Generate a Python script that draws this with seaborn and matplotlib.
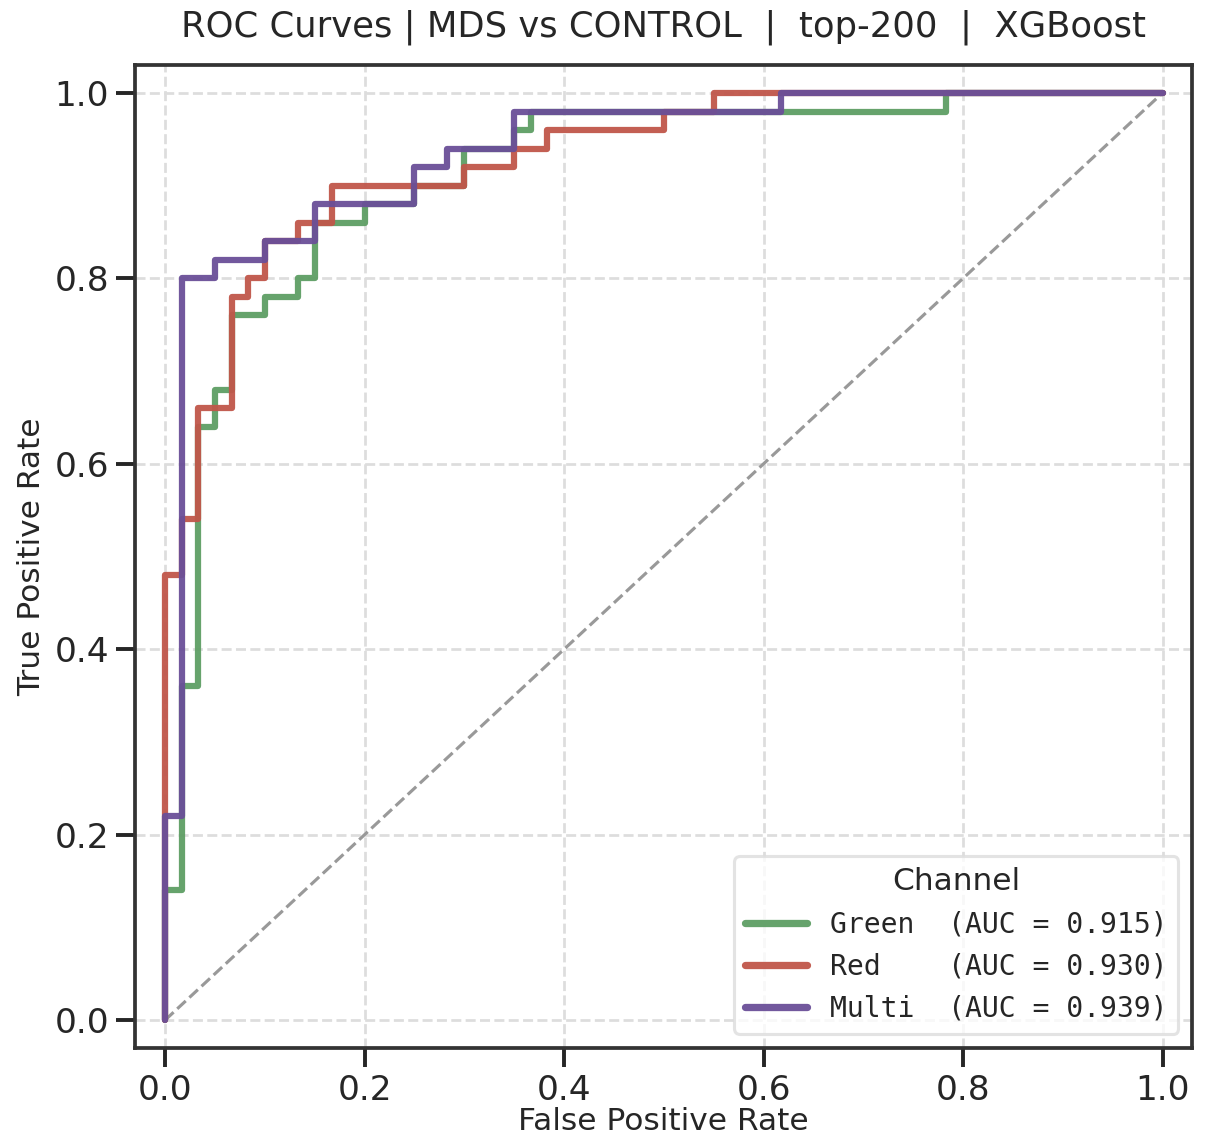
import numpy as np
import pandas as pd
import matplotlib
matplotlib.use("Agg")
import matplotlib.pyplot as plt
import seaborn as sns

# ======= ROC data =================================
channels = ["Green", "Red", "Multi"]
auc_values = [0.915, 0.930, 0.939]
colors = ["#5e9e64", "#c0564a", "#6a4f98"]

green_fpr = [0, 0, 0.017, 0.017, 0.033, 0.033, 0.05, 0.05, 0.067, 0.067, 0.1, 0.1,
             0.133, 0.133, 0.15, 0.15, 0.2, 0.2, 0.25, 0.25, 0.3, 0.3, 0.35, 0.35,
             0.367, 0.367, 0.783, 0.783, 1.0]
green_tpr = [0, 0.14, 0.14, 0.36, 0.36, 0.64, 0.64, 0.68, 0.68, 0.76, 0.76, 0.78,
             0.78, 0.80, 0.80, 0.86, 0.86, 0.88, 0.88, 0.90, 0.90, 0.94, 0.94, 0.96,
             0.96, 0.98, 0.98, 1.0, 1.0]

red_fpr = [0, 0, 0.017, 0.017, 0.033, 0.033, 0.067, 0.067, 0.083, 0.083, 0.1, 0.1,
           0.133, 0.133, 0.167, 0.167, 0.3, 0.3, 0.35, 0.35, 0.383, 0.383, 0.5, 0.5,
           0.55, 0.55, 1.0]
red_tpr = [0, 0.48, 0.48, 0.54, 0.54, 0.66, 0.66, 0.78, 0.78, 0.80, 0.80, 0.84,
           0.84, 0.86, 0.86, 0.90, 0.90, 0.92, 0.92, 0.94, 0.94, 0.96, 0.96, 0.98,
           0.98, 1.0, 1.0]

multi_fpr = [0, 0, 0.017, 0.017, 0.05, 0.05, 0.1, 0.1, 0.15, 0.15, 0.25, 0.25,
             0.283, 0.283, 0.35, 0.35, 0.617, 0.617, 1.0]
multi_tpr = [0, 0.22, 0.22, 0.80, 0.80, 0.82, 0.82, 0.84, 0.84, 0.88, 0.88, 0.92,
             0.92, 0.94, 0.94, 0.98, 0.98, 1.0, 1.0]

ticks = [0.0, 0.2, 0.4, 0.6, 0.8, 1.0]

# ======= build long-form table ========
curves = [(green_fpr, green_tpr), (red_fpr, red_tpr), (multi_fpr, multi_tpr)]
labels = [f"{name:<6} (AUC = {auc:.3f})" for name, auc in zip(channels, auc_values)]

frames = []
for (fpr, tpr), lab in zip(curves, labels):
    frames.append(pd.DataFrame({"fpr": fpr, "tpr": tpr, "label": lab,
                                "order": np.arange(len(fpr))}))
df = pd.concat(frames, ignore_index=True)

# ======= plot ========
sns.set_theme(style="ticks", context="talk")
plt.rcParams["font.family"] = ["DejaVu Sans"]

fig, ax = plt.subplots(figsize=(8.12, 7.627), dpi=150)
fig.subplots_adjust(left=0.111, right=0.979, top=0.943, bottom=0.084)

ax.grid(True, linestyle="--", color="#dddddd", linewidth=1.3)
ax.set_axisbelow(True)

ax.plot([0, 1], [0, 1], linestyle="--", color="#999999", linewidth=1.5, zorder=1)

sns.lineplot(data=df, x="fpr", y="tpr", hue="label", palette=colors,
             sort=False, estimator=None, units="label", linewidth=3,
             alpha=0.95, ax=ax, zorder=2)

ax.set_xlim(-0.03, 1.03)
ax.set_ylim(-0.03, 1.03)
ax.set_xticks(ticks)
ax.set_yticks(ticks)
ax.set_xticklabels([f"{t:.1f}" for t in ticks])
ax.set_yticklabels([f"{t:.1f}" for t in ticks])
ax.set_xlabel("False Positive Rate", fontsize=15, labelpad=0)
ax.set_ylabel("True Positive Rate", fontsize=15)
ax.set_title("ROC Curves | MDS vs CONTROL  |  top-200  |  XGBoost", fontsize=17, pad=14)

for sp in ax.spines.values():
    sp.set_color("#333333")
    sp.set_linewidth(1.8)

handles, _ = ax.get_legend_handles_labels()
for h in handles:
    h.set_linewidth(3.5)
leg = ax.legend(handles, labels, title="Channel", loc="lower right",
                prop={"family": "DejaVu Sans Mono", "size": 13.5},
                title_fontsize=15, frameon=True, handlelength=2.2)
leg.get_frame().set_edgecolor("#dddddd")

plt.savefig("out.png", dpi=150)
